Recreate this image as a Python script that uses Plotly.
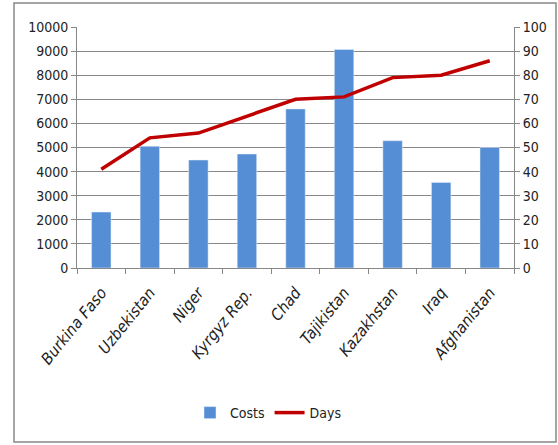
import plotly.graph_objects as go

countries = ["Burkina Faso", "Uzbekistan", "Niger", "Kyrgyz Rep.", "Chad",
             "Tajikistan", "Kazakhstan", "Iraq", "Afghanistan"]
costs = [2320, 5050, 4480, 4730, 6600, 9070, 5280, 3550, 5000]
days = [41, 54, 56, 63, 70, 71, 79, 80, 86]

FONT = "DejaVu Sans Condensed, sans-serif"

fig = go.Figure()
fig.add_trace(go.Bar(x=countries, y=costs, name="Costs", marker_color="#558ED5",
                     width=0.4))
fig.add_trace(go.Scatter(x=countries, y=days, name="Days", mode="lines",
                         line=dict(color="#C00000", width=3.5), yaxis="y2"))

L, R, T, B = 77, 44, 27, 177
W, H = 558, 445
pw, ph = W - L - R, H - T - B

def px_x(x):
    return (x - L) / pw

def px_y(y):
    return (H - B - y) / ph

fig.update_layout(
    width=W, height=H,
    margin=dict(l=L, r=R, t=T, b=B, pad=0),
    paper_bgcolor="white", plot_bgcolor="white",
    font=dict(family=FONT, size=14, color="#222222"),
    bargap=0.6,
    showlegend=True,
    legend=dict(orientation="h", x=px_x(268), y=px_y(413), xanchor="center",
                yanchor="middle", font=dict(size=14, family=FONT)),
    xaxis=dict(
        tickmode="array", tickvals=countries,
        ticktext=["<i>" + c + "</i>" for c in countries],
        tickangle=-51, tickfont=dict(size=16, family=FONT),
        ticklabelstandoff=8,
        showline=True, linecolor="#888888", linewidth=1,
        ticks="outside", tickson="boundaries", ticklen=5, tickcolor="#888888",
        showgrid=False,
    ),
    yaxis=dict(
        range=[0, 10000], dtick=1000, tickformat="d", showgrid=True,
        gridcolor="#888888", gridwidth=1, showline=True, linecolor="#888888",
        ticks="outside", ticklen=5, tickcolor="#888888", zeroline=False,
        tickfont=dict(size=14, family=FONT),
    ),
    yaxis2=dict(
        range=[0, 100], dtick=10, overlaying="y", side="right", showgrid=False,
        showline=True, linecolor="#888888", ticks="outside", ticklen=5,
        tickcolor="#888888", zeroline=False, tickfont=dict(size=14, family=FONT),
    ),
    shapes=[dict(type="rect", xref="paper", yref="paper",
                 x0=px_x(14), x1=px_x(556), y0=px_y(442), y1=px_y(3),
                 line=dict(color="#888888", width=1.5), layer="below")],
)

fig.write_html("out.html")
